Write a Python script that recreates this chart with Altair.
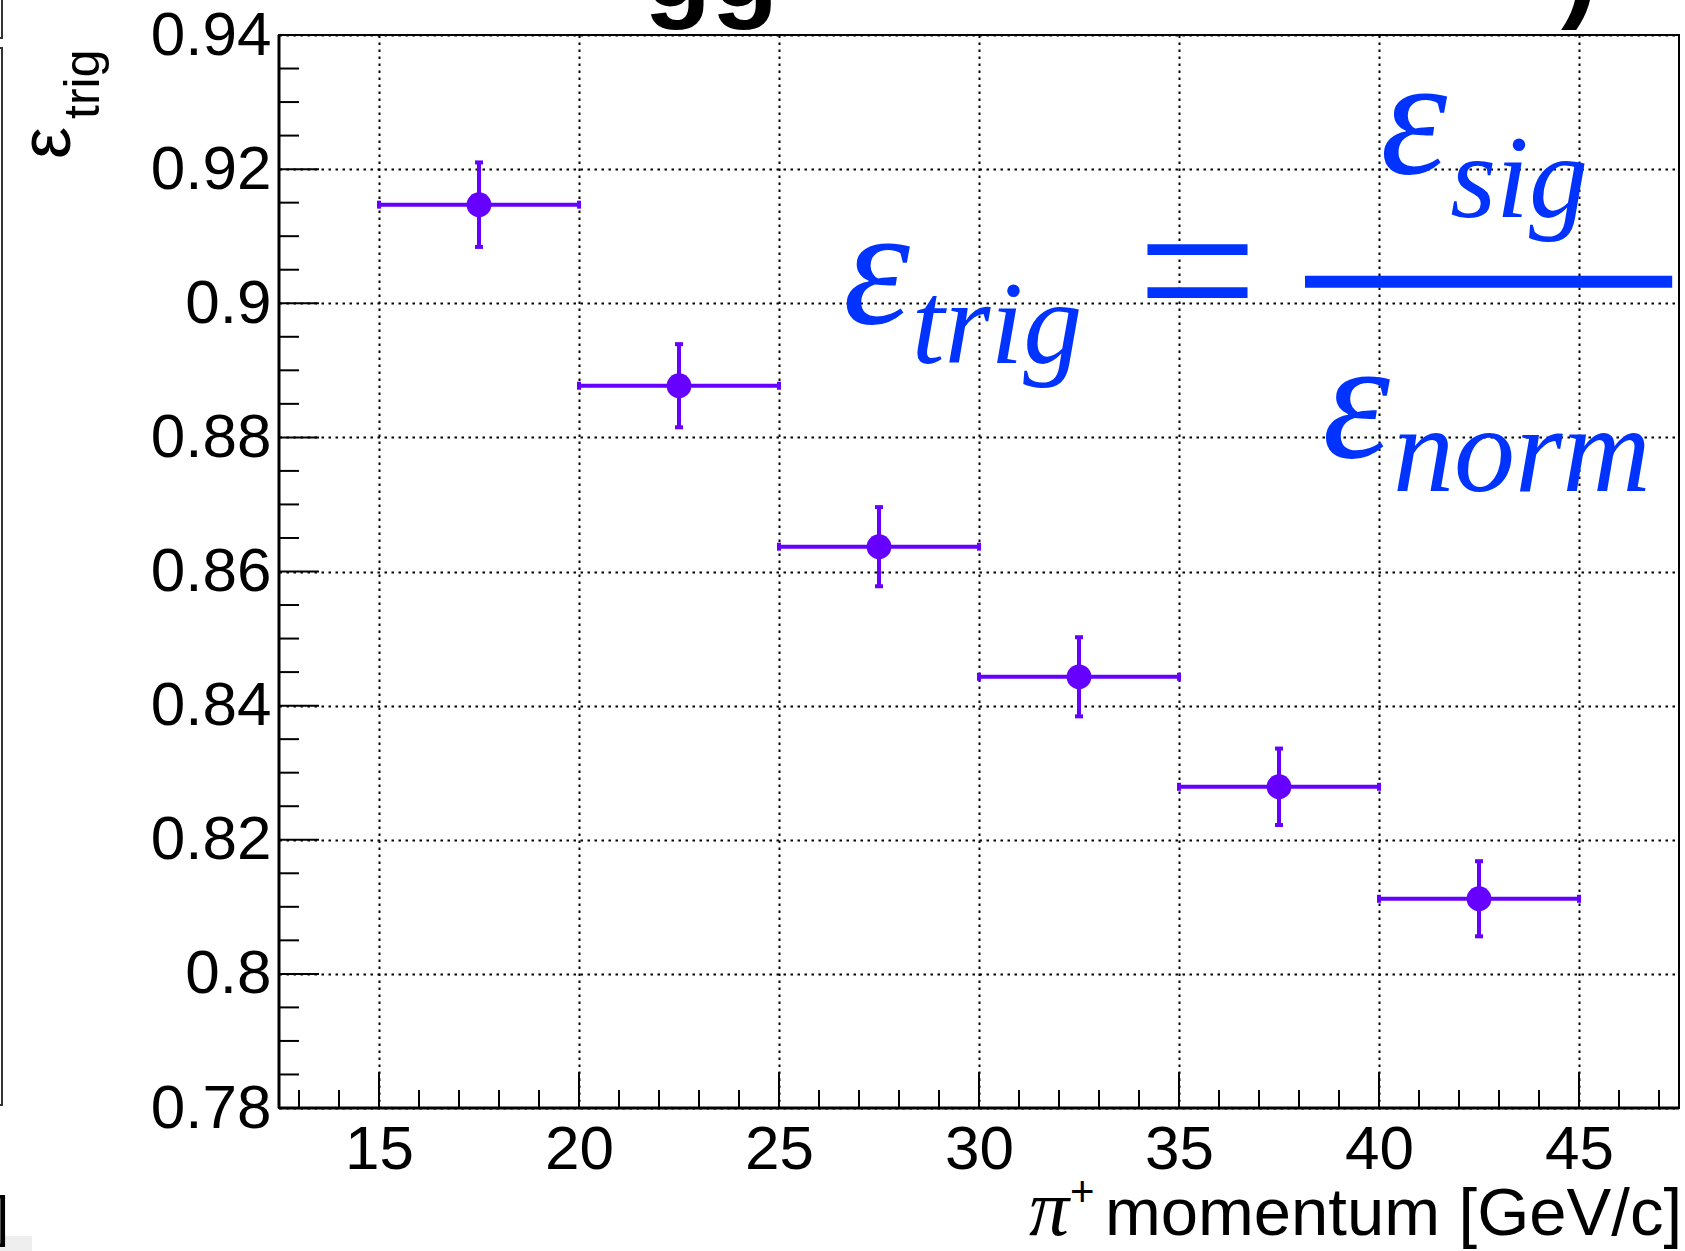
import altair as alt
import pandas as pd

# pi+ momentum bins [GeV/c]
bin_low = [15, 20, 25, 30, 35, 40]
bin_high = [20, 25, 30, 35, 40, 45]
bin_center = [17.5, 22.5, 27.5, 32.5, 37.5, 42.5]
# trigger efficiency per bin and its uncertainty
eff = [0.9147, 0.8877, 0.8637, 0.8443, 0.8279, 0.8112]
eff_err = [0.0063, 0.0062, 0.0059, 0.0059, 0.0057, 0.0056]

# axis ticks
x_major = [15, 20, 25, 30, 35, 40, 45]
x_minor = [v for v in range(13, 48) if v % 5 != 0]
y_major = [0.78, 0.80, 0.82, 0.84, 0.86, 0.88, 0.90, 0.92, 0.94]
y_minor = [round(0.78 + 0.005 * k, 3) for k in range(33) if k % 4 != 0]

W, H = 1400, 1073
PURPLE = "#6600ff"
BLUE = "#0033ff"
SANS = "Liberation Sans"
SERIF = "Liberation Serif"

xs = alt.Scale(domain=[12.5, 47.5], nice=False, zero=False)
ys = alt.Scale(domain=[0.78, 0.94], nice=False, zero=False)

x_axis = alt.Axis(values=x_major, format="d", grid=True, gridColor="black",
                  gridDash=[2.5, 4.5], gridWidth=2, gridOpacity=1, ticks=False,
                  domain=False, labelFont=SANS, labelFontSize=62, labelColor="black",
                  labelPadding=11, labelFlush=False, labelOverlap=False, title=None)
y_axis = alt.Axis(values=y_major, format=".2~f", grid=True, gridColor="black",
                  gridDash=[2.5, 4.5], gridWidth=2, gridOpacity=1, ticks=False,
                  domain=False, labelFont=SANS, labelFontSize=62, labelColor="black",
                  labelPadding=8, labelFlush=False, labelOverlap=False, title=None)


def X(f):
    return alt.X(f, type="quantitative", scale=xs, axis=x_axis)


def Y(f):
    return alt.Y(f, type="quantitative", scale=ys, axis=y_axis)


pts = pd.DataFrame({"lo": bin_low, "hi": bin_high, "p": bin_center,
                    "eff": eff, "err": eff_err})
pts["ylo"] = pts["eff"] - pts["err"]
pts["yhi"] = pts["eff"] + pts["err"]

h_ends = pd.DataFrame({"x": bin_low + bin_high, "y": eff + eff})
v_ends = pd.DataFrame({"x": bin_center + bin_center,
                       "y": list(pts["ylo"]) + list(pts["yhi"])})

one = pd.DataFrame({"k": [0]})

# inward axis ticks, ROOT style
ytick_major = alt.Chart(pd.DataFrame({"v": y_major})).mark_rule(color="black", strokeWidth=2).encode(
    y=Y("v"), x=alt.value(0), x2=alt.value(40))
ytick_minor = alt.Chart(pd.DataFrame({"v": y_minor})).mark_rule(color="black", strokeWidth=2).encode(
    y=Y("v"), x=alt.value(0), x2=alt.value(20))
xtick_major = alt.Chart(pd.DataFrame({"v": x_major})).mark_rule(color="black", strokeWidth=2).encode(
    x=X("v"), y=alt.value(H), y2=alt.value(H - 36))
xtick_minor = alt.Chart(pd.DataFrame({"v": x_minor})).mark_rule(color="black", strokeWidth=2).encode(
    x=X("v"), y=alt.value(H), y2=alt.value(H - 18))

left_line = alt.Chart(one).mark_rule(color="black", strokeWidth=3).encode(
    x=alt.value(0), y=alt.value(0), y2=alt.value(H))
bottom_line = alt.Chart(one).mark_rule(color="black", strokeWidth=3).encode(
    y=alt.value(H), x=alt.value(0), x2=alt.value(W))

# data: bin-width bars, statistical error bars, markers
hbar = alt.Chart(pts).mark_rule(color=PURPLE, strokeWidth=4).encode(x=X("lo"), x2="hi", y=Y("eff"))
vbar = alt.Chart(pts).mark_rule(color=PURPLE, strokeWidth=4).encode(x=X("p"), y=Y("ylo"), y2="yhi")
hcap = alt.Chart(h_ends).mark_tick(color=PURPLE, orient="vertical", size=8, thickness=4, opacity=1).encode(
    x=X("x"), y=Y("y"))
vcap = alt.Chart(v_ends).mark_tick(color=PURPLE, orient="horizontal", size=8, thickness=4, opacity=1).encode(
    x=X("x"), y=Y("y"))
dots = alt.Chart(pts).mark_circle(color=PURPLE, size=615, opacity=1).encode(x=X("p"), y=Y("eff"))

# formula  eps_trig = eps_sig / eps_norm
formula = pd.DataFrame({
    "x": [26.6, 28.32, 33.6, 40.03, 41.78, 38.58, 40.35],
    "y": [0.8970, 0.8911, 0.8942, 0.9194, 0.9129, 0.8771, 0.8720],
    "t": ["ε", "trig", "=", "ε", "sig", "ε", "norm"],
    "fs": [170, 118, 215, 170, 118, 172, 122],
})
formula_text = alt.Chart(formula).mark_text(
    font=SERIF, fontStyle="italic", color=BLUE, align="left", baseline="alphabetic").encode(
    x=X("x"), y=Y("y"), text="t:N", size=alt.Size("fs:Q", scale=None))
frac_bar = alt.Chart(pd.DataFrame({"x1": [38.15], "x2": [47.33], "y": [0.9032]})).mark_rule(
    color=BLUE, strokeWidth=12).encode(x=X("x1"), x2="x2", y=Y("y"))

# axis titles
ytitle_eps = alt.Chart(one).mark_text(text="ε", font=SANS, fontSize=72, angle=270, align="left",
                                      baseline="alphabetic", color="black").encode(
    x=alt.value(-209), y=alt.value(124))
ytitle_sub = alt.Chart(one).mark_text(text="trig", font=SANS, fontSize=50, angle=270, align="left",
                                      baseline="alphabetic", color="black").encode(
    x=alt.value(-180), y=alt.value(84))
xtitle_pi = alt.Chart(one).mark_text(text="π", font=SERIF, fontStyle="italic", fontSize=80,
                                     align="right", baseline="alphabetic", color="black").encode(
    x=alt.value(790), y=alt.value(1200))
xtitle_plus = alt.Chart(one).mark_text(text="+", font=SANS, fontSize=42, align="left",
                                       baseline="alphabetic", color="black").encode(
    x=alt.value(791), y=alt.value(1171))
xtitle_main = alt.Chart(one).mark_text(text="momentum [GeV/c]", font=SANS, fontSize=67,
                                       align="right", baseline="alphabetic", color="black").encode(
    x=alt.value(1403), y=alt.value(1200))

# pieces of the page around the plot (slide title above, neighbouring panel to the left)
top_gg = alt.Chart(one).mark_text(text="gg", font=SANS, fontWeight="bold", fontSize=110, align="left",
                                  baseline="alphabetic", color="black").encode(
    x=alt.value(365), y=alt.value(-28))
top_paren = alt.Chart(one).mark_text(text=")", font=SANS, fontWeight="bold", fontSize=110, align="left",
                                     baseline="alphabetic", color="black").encode(
    x=alt.value(1282), y=alt.value(-28))
nb_upper = alt.Chart(one).mark_rect(fill=None, stroke="#333333", strokeWidth=2).encode(
    x=alt.value(-320), x2=alt.value(-277), y=alt.value(-80), y2=alt.value(3))
nb_lower = alt.Chart(one).mark_rect(fill=None, stroke="#333333", strokeWidth=2).encode(
    x=alt.value(-320), x2=alt.value(-277), y=alt.value(13), y2=alt.value(1070))
nb_bracket = alt.Chart(one).mark_text(text="]", font=SANS, fontSize=56, align="right",
                                      baseline="alphabetic", color="black").encode(
    x=alt.value(-270), y=alt.value(1200))
nb_box = alt.Chart(one).mark_rect(color="#eeeeee").encode(
    x=alt.value(-279), x2=alt.value(-247), y=alt.value(1201), y2=alt.value(1230))

chart = alt.layer(
    nb_box, nb_upper, nb_lower, nb_bracket, top_gg, top_paren,
    ytick_minor, ytick_major, xtick_minor, xtick_major, left_line, bottom_line,
    formula_text, frac_bar,
    hbar, vbar, hcap, vcap, dots,
    ytitle_eps, ytitle_sub, xtitle_pi, xtitle_plus, xtitle_main,
).properties(
    width=W, height=H,
    autosize=alt.AutoSizeParams(type="none"),
    padding={"left": 279, "top": 35, "right": 6, "bottom": 143},
    background="white",
).configure_view(stroke="black", strokeWidth=2)

chart.save("out.html", embed_options={"renderer": "svg", "actions": False})
